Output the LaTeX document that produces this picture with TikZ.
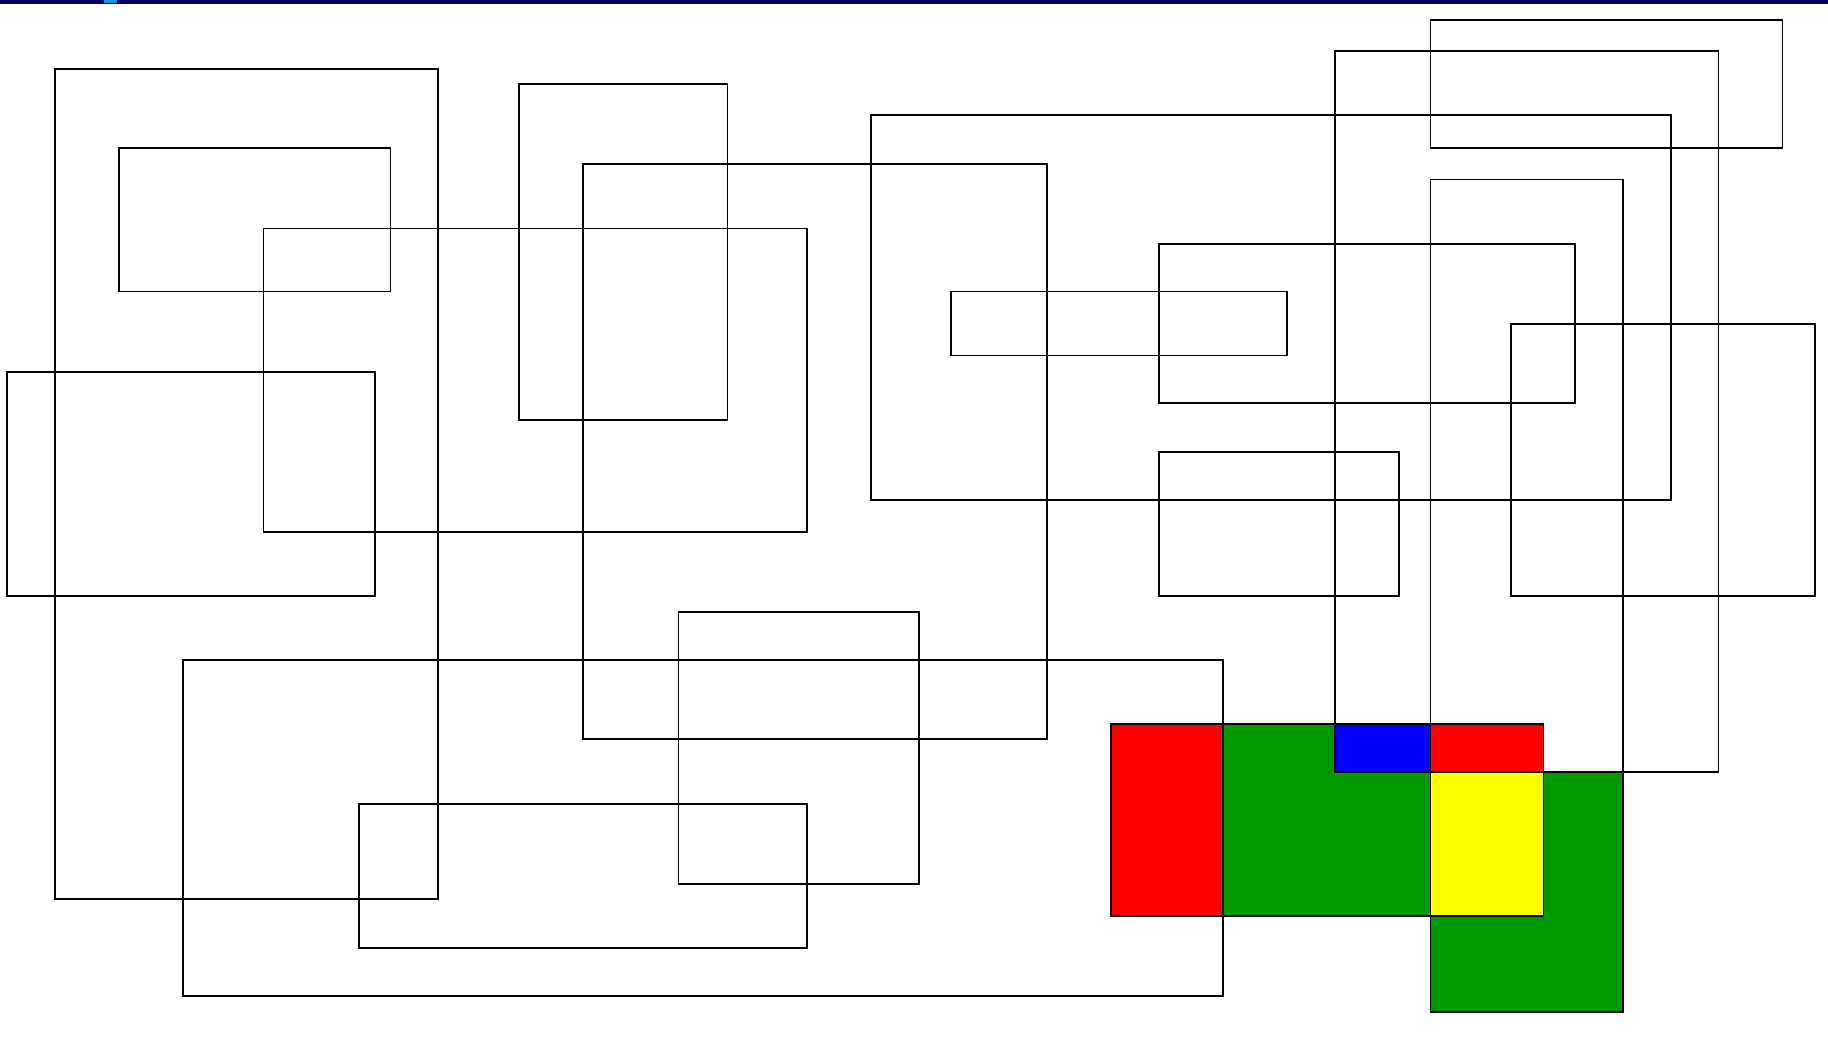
\documentclass[tikz,border=0pt]{standalone}
\usepackage{tikz}
\definecolor{barnavy}{RGB}{0,0,92}
\definecolor{barblue}{RGB}{20,140,240}
\definecolor{cellred}{RGB}{255,0,0}
\definecolor{cellgreen}{RGB}{0,153,0}
\definecolor{cellblue}{RGB}{0,0,255}
\definecolor{cellyellow}{RGB}{255,255,0}

\begin{document}
\begin{tikzpicture}[
  x=0.02cm, y=-0.02cm,
  frame/.style={draw=black, line width=0.9pt},
  cell/.style={line width=0pt},
]
\useasboundingbox (0,0) rectangle (1568,905);

% top bar
\fill[barnavy] (0,0) rectangle (1568,3.4);
\fill[barblue] (89,0) rectangle (100.5,2.6);

% coloured cells
\fill[cellred] (953,621) rectangle (1049,786);
\fill[cellgreen] (1049,621) rectangle (1227,786);
\fill[cellblue] (1145,621) rectangle (1227,662);
\fill[cellred] (1227,621) rectangle (1324,662);
\fill[cellyellow] (1227,662) rectangle (1324,786);
\fill[cellgreen] (1324,662) rectangle (1392,786);
\fill[cellgreen] (1227,786) rectangle (1392,868);

% outlines
\foreach \xa/\ya/\xb/\yb in {
  47/59/376/771, 102/127/335/250, 226/196/692/456, 6/319/322/511,
  445/72/624/360, 500/141/898/634, 747/99/1433/429, 816/250/1104/305,
  994/209/1351/346, 994/388/1200/511, 1145/44/1474/662, 1227/17/1529/127,
  1227/154/1392/868, 1296/278/1557/511, 582/525/788/758, 157/566/1049/854,
  308/690/692/813, 953/621/1324/786} {
  \draw[frame] (\xa,\ya) rectangle (\xb,\yb);
}
\end{tikzpicture}
\end{document}
